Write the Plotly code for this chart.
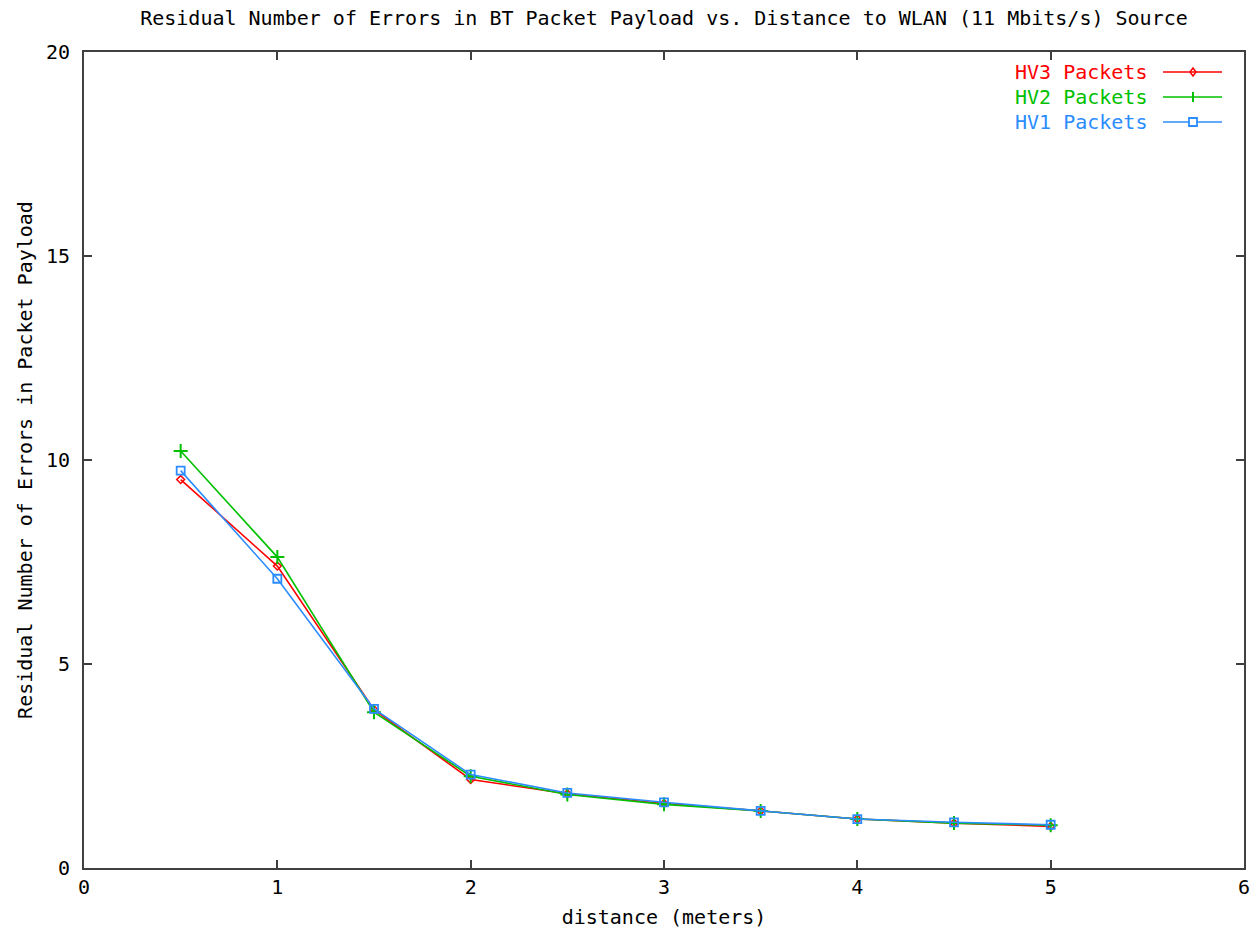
import plotly.graph_objects as go

distance = [0.5, 1.0, 1.5, 2.0, 2.5, 3.0, 3.5, 4.0, 4.5, 5.0]
hv3 = [9.52, 7.40, 3.88, 2.17, 1.82, 1.58, 1.40, 1.20, 1.10, 1.02]
hv2 = [10.22, 7.62, 3.82, 2.25, 1.80, 1.56, 1.40, 1.20, 1.10, 1.05]
hv1 = [9.74, 7.09, 3.90, 2.29, 1.84, 1.61, 1.40, 1.20, 1.12, 1.06]
series_names = ["HV3 Packets", "HV2 Packets", "HV1 Packets"]
colors = ["#ff0000", "#00c000", "#2b8cff"]

FONT = "DejaVu Sans Mono"
W, H = 1251, 944
# plot box in page pixels: left 84, top 52, right 1244, bottom 868
L, T = 84, 52
R = W - 1244
B = H - 868
pw, ph = W - L - R, H - T - B

fig = go.Figure()
fig.add_trace(go.Scatter(x=distance, y=hv3, mode="lines+markers", name=series_names[0],
                         line=dict(color=colors[0], width=1.6),
                         marker=dict(symbol="diamond-open", size=6, color=colors[0], line=dict(width=1.5))))
fig.add_trace(go.Scatter(x=distance, y=hv2, mode="lines+markers", name=series_names[1],
                         line=dict(color=colors[1], width=1.6),
                         marker=dict(symbol="cross-thin", size=10, color=colors[1], line=dict(width=2, color=colors[1]))))
fig.add_trace(go.Scatter(x=distance, y=hv1, mode="lines+markers", name=series_names[2],
                         line=dict(color=colors[2], width=1.6),
                         marker=dict(symbol="square-open", size=8, color=colors[2], line=dict(width=1.8))))

# gnuplot-style key: text on the left, sample on the right (page pixel positions)
def px2x(px):
    return (px - L) / pw

def py2y(py):
    return (H - B - py) / ph

shapes = []
annotations = []
rows = [72, 97, 122]
for name, col, py, kind in zip(series_names, colors, rows, ["diamond", "plus", "square"]):
    annotations.append(dict(xref="paper", yref="paper", x=px2x(1149), y=py2y(py), text=name,
                            showarrow=False, xanchor="right", yanchor="middle",
                            font=dict(family=FONT, size=20, color=col)))
    shapes.append(dict(type="line", xref="paper", yref="paper", x0=px2x(1163), x1=px2x(1222),
                       y0=py2y(py), y1=py2y(py), line=dict(color=col, width=1.6)))
    cx = 1193
    if kind == "diamond":
        shapes.append(dict(type="path", xref="paper", yref="paper",
                           path=f"M {px2x(cx-3)} {py2y(py)} L {px2x(cx)} {py2y(py-4)} L {px2x(cx+3)} {py2y(py)} L {px2x(cx)} {py2y(py+4)} Z",
                           line=dict(color=col, width=1.5)))
    elif kind == "plus":
        shapes.append(dict(type="line", xref="paper", yref="paper", x0=px2x(cx), x1=px2x(cx),
                           y0=py2y(py - 5), y1=py2y(py + 5), line=dict(color=col, width=2)))
    else:
        shapes.append(dict(type="rect", xref="paper", yref="paper", x0=px2x(cx - 4), x1=px2x(cx + 4),
                           y0=py2y(py - 4), y1=py2y(py + 4), line=dict(color=col, width=1.8),
                           fillcolor="white"))

fig.update_layout(
    width=W, height=H,
    margin=dict(l=L, r=R, t=T, b=B, autoexpand=False),
    paper_bgcolor="white", plot_bgcolor="white",
    showlegend=False,
    font=dict(family=FONT, size=20, color="#000000"),
    title=dict(text="Residual Number of Errors in BT Packet Payload vs. Distance to WLAN (11 Mbits/s) Source",
               x=0.5, xref="paper", xanchor="center", y=1 - 18 / H, yanchor="middle",
               font=dict(family=FONT, size=20, color="#000000")),
    xaxis=dict(range=[0, 6], dtick=1, tick0=0, showgrid=False, zeroline=False, automargin=False,
               showline=True, linecolor="#404040", linewidth=2, mirror="ticks",
               ticks="inside", ticklen=8, tickwidth=1.5, tickcolor="#404040",
               tickfont=dict(family=FONT, size=20, color="#000000"),
               title=dict(text="distance (meters)", standoff=12,
                          font=dict(family=FONT, size=20, color="#000000"))),
    yaxis=dict(range=[0, 20], dtick=5, tick0=0, showgrid=False, zeroline=False, automargin=False,
               showline=True, linecolor="#404040", linewidth=2, mirror="ticks",
               ticks="inside", ticklen=8, tickwidth=1.5, tickcolor="#404040",
               tickfont=dict(family=FONT, size=20, color="#000000"),
               ticklabelstandoff=8,
               title=dict(text="Residual Number of Errors in Packet Payload", standoff=8,
                          font=dict(family=FONT, size=20, color="#000000"))),
    shapes=shapes,
    annotations=annotations,
)

fig.write_html("out.html",
               config={"displayModeBar": False},
               post_script="document.body.style.margin='0';document.body.style.overflow='hidden';")
